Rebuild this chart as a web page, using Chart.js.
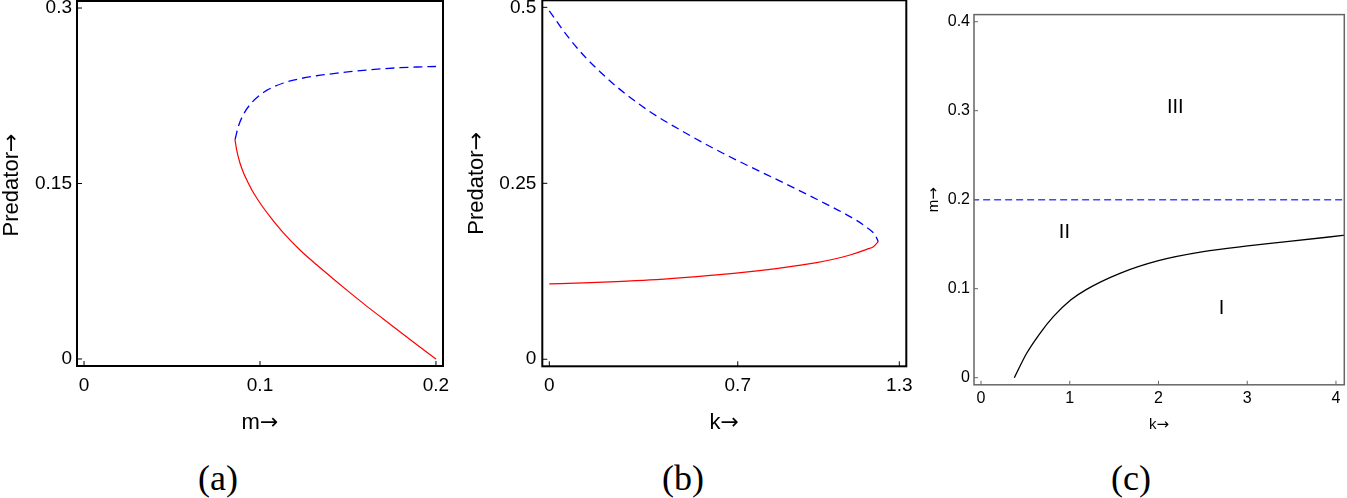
<!DOCTYPE html>
<html>
<head>
<meta charset="utf-8">
<script src="https://cdn.jsdelivr.net/npm/chart.js@4.4.1/dist/chart.umd.min.js"></script>
<style>
  html, body { margin: 0; padding: 0; background: #fff; }
  body { width: 1347px; height: 498px; position: relative; overflow: hidden; }
  canvas { position: absolute; top: 0; }
  .cap { position: absolute; top: 460px; width: 100px; margin-left: -50px; text-align: center;
         font-family: "Liberation Serif", "Times New Roman", serif; font-size: 36px; line-height: 36px; color: #000; }
</style>
</head>
<body>
<canvas id="ca" width="455" height="440" style="left:0px"></canvas>
<canvas id="cb" width="465" height="440" style="left:455px"></canvas>
<canvas id="cc" width="427" height="440" style="left:920px"></canvas>
<div class="cap" style="left:218px">(a)</div>
<div class="cap" style="left:683px">(b)</div>
<div class="cap" style="left:1131px">(c)</div>
<script>
// ---------------- DATA ----------------
// Panel (a): predator vs m
const aUnstableM = [0.0858, 0.0877, 0.0905, 0.0943, 0.0991, 0.1038, 0.1133, 0.1227, 0.1322, 0.1417, 0.1511, 0.1606, 0.1701, 0.1795, 0.1890, 0.2000];
const aUnstableP = [0.1875, 0.1988, 0.2088, 0.2174, 0.2245, 0.2296, 0.2359, 0.2396, 0.2421, 0.2439, 0.2456, 0.2470, 0.2481, 0.2490, 0.2496, 0.2500];
const aStableM   = [0.0858, 0.0867, 0.0886, 0.0915, 0.0953, 0.1000, 0.1057, 0.1133, 0.1227, 0.1322, 0.1417, 0.1511, 0.1606, 0.1701, 0.1795, 0.1890, 0.2000];
const aStableP   = [0.1875, 0.1789, 0.1675, 0.1561, 0.1447, 0.1333, 0.1217, 0.1078, 0.0932, 0.0805, 0.0684, 0.0567, 0.0452, 0.0342, 0.0232, 0.0123, 0.0000];
const aXTicks = [0, 0.1, 0.2];
const aXTickLabels = ["0", "0.1", "0.2"];
const aYTicks = [0, 0.15, 0.3];
const aYTickLabels = ["0", "0.15", "0.3"];

// Panel (b): predator vs k
const bUnstableK = [0, 0.0646, 0.1264, 0.1883, 0.2503, 0.3741, 0.4978, 0.6218, 0.7455, 0.8693, 0.9933, 1.117, 1.179, 1.210, 1.222];
const bUnstableP = [0.495, 0.4605, 0.4322, 0.4086, 0.3872, 0.3517, 0.3233, 0.2973, 0.2736, 0.2509, 0.2273, 0.2026, 0.1875, 0.1766, 0.1671];
const bStableK   = [0, 0.1264, 0.2503, 0.3741, 0.4978, 0.6218, 0.7455, 0.8693, 0.9933, 1.055, 1.117, 1.179, 1.204, 1.222];
const bStableP   = [0.107, 0.1084, 0.1103, 0.1127, 0.1160, 0.1198, 0.1245, 0.1302, 0.1373, 0.1421, 0.1482, 0.1562, 0.1600, 0.1671];
const bXTicks = [0, 0.7, 1.3];
const bXTickLabels = ["0", "0.7", "1.3"];
const bYTicks = [0, 0.25, 0.5];
const bYTickLabels = ["0", "0.25", "0.5"];

// Panel (c): m vs k regions
const cCurveK = [0.3756, 0.5146, 0.665, 0.815, 1.01, 1.19, 1.566, 2.0, 2.505, 3.005, 3.444, 4.12];
const cCurveM = [0, 0.0274, 0.0499, 0.0686, 0.0873, 0.0993, 0.1173, 0.1315, 0.1416, 0.148, 0.1528, 0.1603];
const cHopfK = [-0.1, 4.2];
const cHopfM = [0.2, 0.2];
const cXTicks = [0, 1, 2, 3, 4];
const cXTickLabels = ["0", "1", "2", "3", "4"];
const cYTicks = [0, 0.1, 0.2, 0.3, 0.4];
const cYTickLabels = ["0", "0.1", "0.2", "0.3", "0.4"];
const cRegionLabels = ["III", "II", "I"];
const cRegionK = [2.19, 0.94, 2.71];
const cRegionM = [0.304, 0.163, 0.078];

// ---------------- HELPERS ----------------
const FONT = "'Liberation Sans', Arial, sans-serif";
const ARROWFONT = "'DejaVu Sans', sans-serif";
const pts = (xs, ys) => xs.map((x, i) => ({x: x, y: ys[i]}));

// draws "word" + arrow with the arrow in a font that has a full-size arrow glyph
function drawTitle(ctx, word, size, cx, baseY, rotate) {
  ctx.save();
  ctx.translate(cx, baseY);
  if (rotate) ctx.rotate(-Math.PI / 2);
  ctx.textBaseline = 'alphabetic';
  ctx.textAlign = 'left';
  ctx.fillStyle = '#000';
  ctx.font = size + "px " + FONT;
  const w1 = ctx.measureText(word).width;
  ctx.font = size + "px " + ARROWFONT;
  const w2 = ctx.measureText('→').width;
  const start = -(w1 + w2) / 2;
  ctx.font = size + "px " + FONT;
  ctx.fillText(word, start, 0);
  ctx.font = size + "px " + ARROWFONT;
  ctx.fillText('→', start + w1, 0);
  ctx.restore();
}

const framePlugin = {
  id: 'frame',
  afterDatasetsDraw(chart, args, o) {
    const {ctx, chartArea: a, scales: {x, y}} = chart;
    ctx.save();
    ctx.strokeStyle = o.color;
    ctx.lineWidth = o.tickWidth;
    x.ticks.forEach(t => {
      const px = x.getPixelForValue(t.value);
      ctx.beginPath(); ctx.moveTo(px, a.bottom); ctx.lineTo(px, a.bottom - o.tickLen); ctx.stroke();
    });
    y.ticks.forEach(t => {
      const py = y.getPixelForValue(t.value);
      ctx.beginPath(); ctx.moveTo(a.left, py); ctx.lineTo(a.left + o.tickLen, py); ctx.stroke();
    });
    ctx.lineWidth = o.width;
    ctx.strokeRect(a.left, a.top, a.right - a.left, a.bottom - a.top);
    if (o.labels) {
      ctx.fillStyle = '#000';
      ctx.font = o.labelFont;
      ctx.textAlign = 'center';
      ctx.textBaseline = 'middle';
      o.labels.forEach((s, i) => ctx.fillText(s, x.getPixelForValue(o.labelX[i]), y.getPixelForValue(o.labelY[i])));
    }
    // axis titles
    const cxMid = (a.left + a.right) / 2, cyMid = (a.top + a.bottom) / 2;
    drawTitle(ctx, o.xTitle, o.titleSize, cxMid, o.xTitleBase, false);
    drawTitle(ctx, o.yTitle, o.titleSize, o.yTitleBase, cyMid + o.yTitleShift, true);
    ctx.restore();
  }
};

function makeChart(id, cfg) {
  const setTicks = (vals) => (s) => { s.ticks = vals.map(v => ({value: v})); };
  const fmt = (vals, labels) => (v) => { const i = vals.findIndex(t => Math.abs(t - v) < 1e-9); return i >= 0 ? labels[i] : ''; };
  return new Chart(document.getElementById(id), {
    type: 'scatter',
    data: { datasets: cfg.datasets },
    plugins: [framePlugin],
    options: {
      responsive: false,
      animation: false,
      devicePixelRatio: 1,
      layout: { padding: cfg.padding },
      plugins: { legend: { display: false }, tooltip: { enabled: false }, frame: cfg.frame },
      scales: {
        x: {
          type: 'linear', min: cfg.xMin, max: cfg.xMax,
          grid: { display: false, drawTicks: false }, border: { display: false },
          afterBuildTicks: setTicks(cfg.xTicks),
          ticks: { autoSkip: false, maxRotation: 0, color: '#000', padding: cfg.xTickPad,
                   font: { family: FONT, size: cfg.tickSize }, callback: fmt(cfg.xTicks, cfg.xTickLabels) },
          title: { display: false },
          afterFit: (s) => { s.height = cfg.xHeight; s.paddingLeft = 0; s.paddingRight = 0; }
        },
        y: {
          type: 'linear', min: cfg.yMin, max: cfg.yMax,
          grid: { display: false, drawTicks: false }, border: { display: false },
          afterBuildTicks: setTicks(cfg.yTicks),
          ticks: { autoSkip: false, color: '#000', padding: cfg.yTickPad,
                   font: { family: FONT, size: cfg.tickSize }, callback: fmt(cfg.yTicks, cfg.yTickLabels) },
          title: { display: false },
          afterFit: (s) => { s.width = cfg.yWidth; s.paddingTop = 0; s.paddingBottom = 0; }
        }
      }
    }
  });
}

const lineDs = (data, color, width, dash) => ({
  data: data, showLine: true, borderColor: color, borderWidth: width, borderDash: dash || [],
  pointRadius: 0, fill: false, cubicInterpolationMode: 'monotone', clip: 0
});

// Panel (a)
makeChart('ca', {
  datasets: [
    lineDs(pts(aUnstableM, aUnstableP), '#0000ff', 1.3, [9, 5]),
    lineDs(pts(aStableM, aStableP), '#ff0000', 1.2)
  ],
  padding: { top: 1, right: 12, left: 0, bottom: 0 },
  xMin: -0.004, xMax: 0.204, yMin: -0.006, yMax: 0.306,
  xTicks: aXTicks, xTickLabels: aXTickLabels, yTicks: aYTicks, yTickLabels: aYTickLabels,
  tickSize: 19, xTickPad: 8, yTickPad: 5,
  xHeight: 74, yWidth: 77,
  frame: { color: '#000', width: 2, tickWidth: 1, tickLen: 5,
           xTitle: 'm', yTitle: 'Predator', titleSize: 22, xTitleBase: 429, yTitleBase: 18, yTitleShift: 1.5 }
});

// Panel (b)
makeChart('cb', {
  datasets: [
    lineDs(pts(bUnstableK, bUnstableP), '#0000ff', 1.3, [8, 5]),
    lineDs(pts(bStableK, bStableP), '#ff0000', 1.2)
  ],
  padding: { top: 0.3, right: 13.7, left: 0, bottom: 0 },
  xMin: -0.026, xMax: 1.326, yMin: -0.01, yMax: 0.51,
  xTicks: bXTicks, xTickLabels: bXTickLabels, yTicks: bYTicks, yTickLabels: bYTickLabels,
  tickSize: 19, xTickPad: 8, yTickPad: 6,
  xHeight: 73.7, yWidth: 87.3,
  frame: { color: '#000', width: 2, tickWidth: 1, tickLen: 5,
           xTitle: 'k', yTitle: 'Predator', titleSize: 22, xTitleBase: 429, yTitleBase: 28, yTitleShift: 0 }
});

// Panel (c)
makeChart('cc', {
  datasets: [
    lineDs(pts(cHopfK, cHopfM), 'rgb(70,70,255)', 1.4, [7, 4]),
    lineDs(pts(cCurveK, cCurveM), '#000', 1.3)
  ],
  padding: { top: 14.6, right: 2.7, left: 0, bottom: 0 },
  xMin: -0.079, xMax: 4.094, yMin: -0.008, yMax: 0.408,
  xTicks: cXTicks, xTickLabels: cXTickLabels, yTicks: cYTicks, yTickLabels: cYTickLabels,
  tickSize: 16, xTickPad: 4, yTickPad: 4,
  xHeight: 55.2, yWidth: 54,
  frame: { color: '#666', width: 1.5, tickWidth: 1, tickLen: 4,
           labels: cRegionLabels, labelX: cRegionK, labelY: cRegionM, labelFont: "20px " + FONT,
           xTitle: 'k', yTitle: 'm', titleSize: 15, xTitleBase: 429, yTitleBase: 17.5, yTitleShift: 0 }
});
</script>
</body>
</html>
